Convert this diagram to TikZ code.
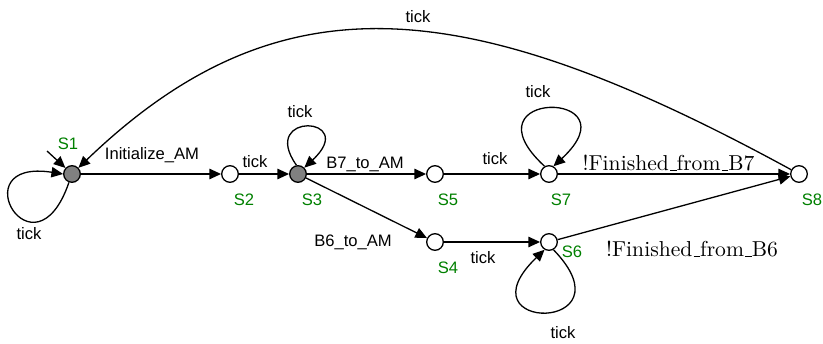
\documentclass[tikz,border=0pt]{standalone}
\usepackage{fontspec}
\newfontfamily\labelfont{Liberation Sans}
\usetikzlibrary{arrows.meta}
\definecolor{stategreen}{RGB}{0,128,0}
% low rule used as underscore in the guard texts
\newcommand\undbar{\leavevmode\kern.06em\vbox{\hrule width.3em}}
\begin{document}
\begin{tikzpicture}[x=0.5pt,y=0.5pt,
  every node/.style={font=\labelfont\fontsize{8.3}{10}\selectfont},
  state/.style={circle,draw,line width=0.65pt,minimum size=8.3pt,inner sep=0pt,fill=white},
  busy/.style={state,fill=gray},
  trans/.style={line width=0.65pt,-{Triangle[length=5.8pt,width=5.2pt]}},
  tag/.style={text=stategreen},
  guard/.style={font=\rmfamily\fontsize{10.8}{13}\selectfont}
]
\useasboundingbox (0,0) rectangle (823,343);

% states
\node[busy]  (s1) at (72,169)  {};
\node[state] (s2) at (230,169) {};
\node[busy]  (s3) at (298,169) {};
\node[state] (s5) at (435,169) {};
\node[state] (s7) at (549,169) {};
\node[state] (s8) at (799,169) {};
\node[state] (s4) at (435,101) {};
\node[state] (s6) at (549,101) {};

% state names
\node[tag] (n1) at (68,199)  {S1};
\node[tag] (n2) at (244,143) {S2};
\node[tag] (n3) at (312,143) {S3};
\node[tag] (n5) at (448,143) {S5};
\node[tag] (n7) at (561,143) {S7};
\node[tag] (n8) at (812,143) {S8};
\node[tag] (n4) at (448,75)  {S4};
\node[tag] (n6) at (572,91)  {S6};

% initial marker
\coordinate (init) at (47,192);
\draw[trans] (init) -- (s1);

% transitions
\draw[trans] (s1) -- (s2);
\draw[trans] (s2) -- (s3);
\draw[trans] (s3) -- (s5);
\draw[trans] (s5) -- (s7);
\draw[trans] (s7) -- (s8);
\draw[trans] (s3) -- (s4);
\draw[trans] (s4) -- (s6);
\draw[trans] (s6) -- (s8);
\draw[trans] (s8) .. controls (469,349) and (281,370) .. (s1);

% self loops
\draw[trans] (s1.250) .. controls (34,59) and (-40,185) .. (s1.180);
\draw[trans] (s3.100) .. controls (258,232) and (360,227) .. (s3.45);
\draw[trans] (s7.120) .. controls (461,254) and (637,254) .. (s7.60);
\draw[trans] (s6.-60) .. controls (634,10) and (458,10) .. (s6.-120);

% transition labels
\node (t0) at (418,326) {tick};
\node (t1) at (152,188) {Initialize\_AM};
\node (t2) at (255,181) {tick};
\node (t3) at (300,231) {tick};
\node (t4) at (365,179) {B7\_to\_AM};
\node (t5) at (353,101) {B6\_to\_AM};
\node (t6) at (495,184) {tick};
\node (t7) at (538,251) {tick};
\node (t8) at (483,85)  {tick};
\node (t9) at (563,10)  {tick};
\node (t10) at (29,109) {tick};
\node[guard] (g7) at (668.5,180) {!Finished\undbar from\undbar B7};
\node[guard] (g6) at (692,94)    {!Finished\undbar from\undbar B6};
\end{tikzpicture}
\end{document}
